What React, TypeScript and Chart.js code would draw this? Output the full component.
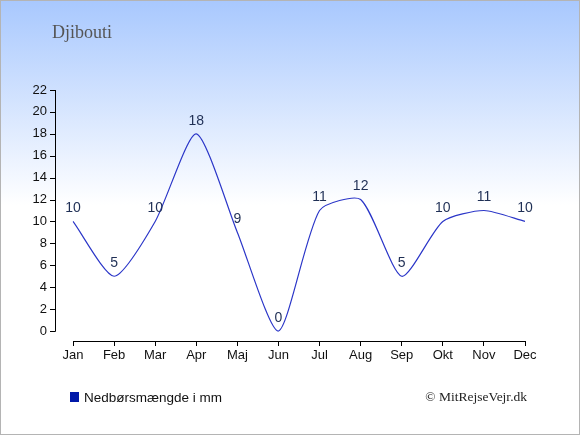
import React, { useEffect, useRef } from "react";
import { Chart, registerables } from "chart.js";

Chart.register(...registerables);

const months = ["Jan", "Feb", "Mar", "Apr", "Maj", "Jun", "Jul", "Aug", "Sep", "Okt", "Nov", "Dec"];
const rainfall = [10, 5, 10, 18, 9, 0, 11, 12, 5, 10, 11, 10];
const yTicks = [0, 2, 4, 6, 8, 10, 12, 14, 16, 18, 20, 22];
const titleText = "Djibouti";
const legendText = "Nedbørsmængde i mm";
const creditText = "© MitRejseVejr.dk";

const W = 580;
const H = 435;
const LEFT = 73;
const RIGHT = 525;
const TOP = 90;
const ZERO_Y = 331;
const AXIS_Y = 341;
const yMax = 22;
const yMin = -((AXIS_Y - ZERO_Y) / ((ZERO_Y - TOP) / yMax));

const decorPlugin = {
  id: "decor",
  beforeDraw(chart: any) {
    const { ctx } = chart;
    ctx.save();
    const g = ctx.createLinearGradient(0, 0, 0, 205);
    g.addColorStop(0, "#a8c8fe");
    g.addColorStop(1, "#ffffff");
    ctx.fillStyle = g;
    ctx.fillRect(0, 0, W, H);
    ctx.fillStyle = "#ffffff";
    ctx.fillRect(0, 205, W, H - 205);
    ctx.strokeStyle = "#b4b4b4";
    ctx.lineWidth = 1;
    ctx.strokeRect(0.5, 0.5, W - 1, H - 1);
    ctx.restore();
  },
  afterDraw(chart: any) {
    const { ctx } = chart;
    const y = chart.scales.y;
    ctx.save();
    // y axis line and ticks
    ctx.strokeStyle = "#000";
    ctx.lineWidth = 1;
    const axX = 55.5;
    ctx.beginPath();
    ctx.moveTo(axX, Math.round(y.getPixelForValue(yMax)));
    ctx.lineTo(axX, Math.round(y.getPixelForValue(0)) + 0.5);
    yTicks.forEach((t) => {
      const py = Math.round(y.getPixelForValue(t)) + 0.5;
      ctx.moveTo(50, py);
      ctx.lineTo(axX, py);
    });
    ctx.stroke();

    // data labels
    const meta = chart.getDatasetMeta(0);
    ctx.fillStyle = "#1f2f55";
    ctx.font = "14px 'Liberation Sans', Arial, sans-serif";
    ctx.textAlign = "center";
    ctx.textBaseline = "middle";
    meta.data.forEach((pt: any, i: number) => {
      ctx.fillText(String(rainfall[i]), pt.x, pt.y - 13);
    });

    // title
    ctx.fillStyle = "#555555";
    ctx.font = "18px 'Liberation Serif', 'Times New Roman', serif";
    ctx.textAlign = "left";
    ctx.textBaseline = "alphabetic";
    ctx.fillText(titleText, 52, 38);

    // legend
    ctx.fillStyle = "#0018a8";
    ctx.fillRect(70, 392, 9, 10);
    ctx.fillStyle = "#111111";
    ctx.font = "13.5px 'Liberation Sans', Arial, sans-serif";
    ctx.textBaseline = "middle";
    ctx.fillText(legendText, 84, 398);

    // credit
    ctx.fillStyle = "#222222";
    ctx.font = "13.5px 'Liberation Serif', 'Times New Roman', serif";
    ctx.textAlign = "right";
    ctx.fillText(creditText, 527, 397);
    ctx.restore();
  },
};

export default function App() {
  const ref = useRef<HTMLCanvasElement | null>(null);
  useEffect(() => {
    document.body.style.margin = "0";
    const canvas = ref.current;
    if (!canvas) return;
    const chart = new Chart(canvas, {
      type: "line",
      data: {
        labels: months,
        datasets: [
          {
            label: legendText,
            data: rainfall,
            borderColor: "#2b36c8",
            borderWidth: 1.2,
            pointRadius: 0,
            pointHoverRadius: 0,
            tension: 0.22,
            fill: false,
          },
        ],
      },
      options: {
        animation: false,
        responsive: false,
        devicePixelRatio: 1,
        layout: { padding: { left: 0, right: W - RIGHT, top: TOP, bottom: H - AXIS_Y - 30 } },
        plugins: {
          legend: { display: false },
          title: { display: false },
          tooltip: { enabled: false },
        },
        scales: {
          x: {
            type: "category",
            offset: false,
            afterFit: (s: any) => {
              s.height = 30;
            },
            border: { display: true, color: "#000", width: 1 },
            grid: {
              display: true,
              drawOnChartArea: false,
              drawTicks: true,
              tickLength: 5,
              color: "#000",
            },
            ticks: {
              color: "#111",
              font: { family: "'Liberation Sans', Arial, sans-serif", size: 13 },
              padding: 2,
              maxRotation: 0,
              autoSkip: false,
            },
          },
          y: {
            type: "linear",
            min: yMin,
            max: yMax,
            afterFit: (s: any) => {
              s.width = LEFT;
            },
            afterBuildTicks: (s: any) => {
              s.ticks = yTicks.map((v) => ({ value: v }));
            },
            border: { display: false },
            grid: { display: false, drawTicks: false },
            ticks: {
              color: "#111",
              font: { family: "'Liberation Sans', Arial, sans-serif", size: 13 },
              padding: 26,
            },
          },
        },
      },
      plugins: [decorPlugin],
    });
    return () => chart.destroy();
  }, []);
  return (
    <div style={{ position: "absolute", left: 0, top: 0, width: W, height: H }}>
      <canvas ref={ref} width={W} height={H} style={{ width: W, height: H, display: "block" }} />
    </div>
  );
}
